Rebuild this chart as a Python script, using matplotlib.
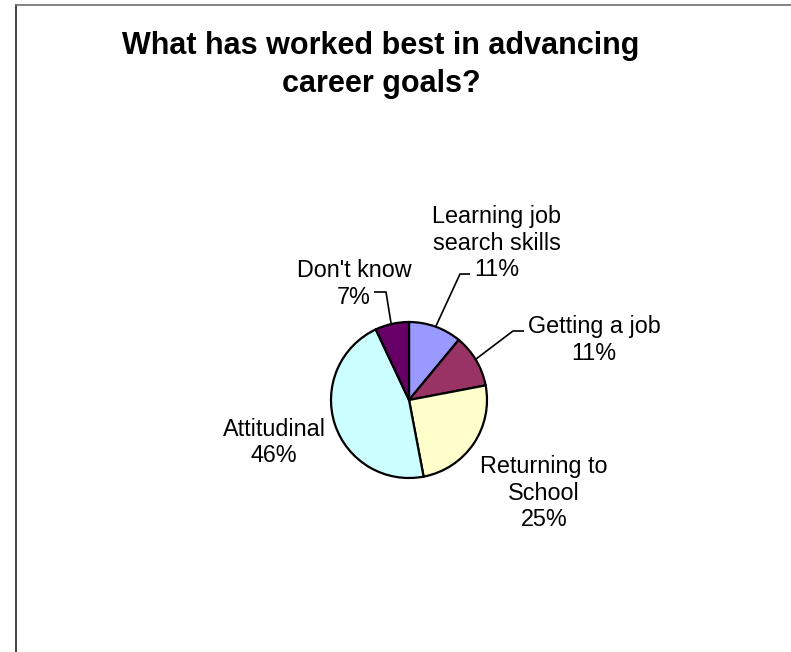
import matplotlib
matplotlib.use('Agg')
import matplotlib.pyplot as plt

plt.rcParams['font.family'] = ['Liberation Sans', 'DejaVu Sans']

# Survey answers, in clockwise order from 12 o'clock
categories = ['Learning job\nsearch skills', 'Getting a job', 'Returning to\nSchool',
              'Attitudinal', "Don't know"]
shares = [11, 11, 25, 46, 7]
colors = ['#9999FF', '#993366', '#FFFFCC', '#CCFFFF', '#660066']

# label anchor: centre x and first baseline (pixels), plus leader line
label_pos = [(497, 223), (594, 333), (544, 473), (274, 436), (354, 277)]
leaders = [
    [(470, 274), (460, 274), (436, 326)],
    [(524, 331), (513, 331), (476, 359)],
    None,
    None,
    [(374, 292), (386, 292), (391, 323)],
]

W, H = 791, 652
fig = plt.figure(figsize=(W / 100, H / 100), dpi=100)
ax = fig.add_axes([0, 0, 1, 1])

# y axis runs downward, so data angles go clockwise on screen
ax.pie(shares, colors=colors, center=(409, 400), radius=78,
       startangle=-90, counterclock=True,
       wedgeprops={'edgecolor': 'black', 'linewidth': 1.6})
ax.set_xlim(0, W)
ax.set_ylim(H, 0)
ax.set_aspect('equal')
ax.axis('off')


def draw_lines(x, y0, lines, step, **kw):
    for i, line in enumerate(lines):
        ax.text(x, y0 + i * step, line, ha='center', va='baseline', **kw)


for cat, share, (x, y), lead in zip(categories, shares, label_pos, leaders):
    lines = cat.split('\n') + [f'{share}%']
    draw_lines(x, y, lines, 26.5, fontsize=16.8, color='black')
    if lead:
        xs, ys = zip(*lead)
        ax.plot(xs, ys, color='black', lw=1.2, solid_capstyle='butt')

draw_lines(381, 54, ['What has worked best in advancing', 'career goals?'], 38,
           fontsize=22, fontweight='bold', color='black')

# chart area border (only top and left edges fall inside the image)
ax.plot([16, 16], [5, H], color='#202020', lw=1.2)
ax.plot([16, W], [5, 5], color='#707070', lw=1.2)

fig.savefig('out.png', dpi=100)
